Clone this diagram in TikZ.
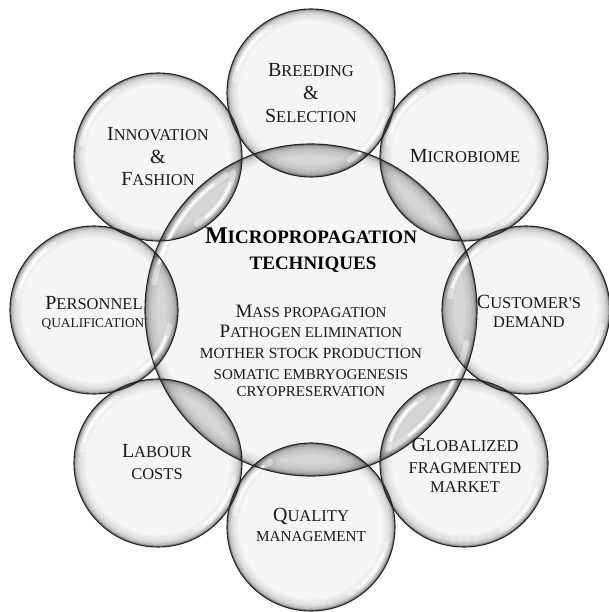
\documentclass[tikz,border=0pt]{standalone}
\usepackage{fontspec}
\setmainfont{Liberation Serif}
\usetikzlibrary{calc}
\newcommand\bigC[1]{{\fontsize{20}{24}\selectfont #1}}
\newcommand\midC[1]{{\fontsize{19}{22}\selectfont #1}}
\tikzset{
  bub/.style={circle, inner sep=0pt, fill=black!4},
  bord/.style={draw=black!85, line width=1.1pt},
  lensfill/.style={fill=black!16},
  rim/.style={draw=black, line width=#1},
  hl/.style={draw=white, line width=2.6pt, line cap=round, opacity=0.85},
  hlsoft/.style={draw=white, line width=6pt, line cap=round, opacity=0.4},
  lbl/.style={anchor=base, inner sep=0pt, text=black!90, font=\fontsize{16.5}{18}\selectfont},
  lst/.style={anchor=base, inner sep=0pt, text=black!90, font=\fontsize{15}{17}\selectfont},
  ttl/.style={anchor=base, inner sep=0pt, text=black, font=\bfseries\fontsize{19}{22}\selectfont}
}
\begin{document}
\begin{tikzpicture}[x=1pt, y=-1pt]
\useasboundingbox (0,0) rectangle (608,612);
% circle fills
\node[bub, minimum size=332pt] (cen) at (311,310) {};
\node[bub, minimum size=168pt] (breed) at (311,93) {};
\node[bub, minimum size=168pt] (micro) at (464,157) {};
\node[bub, minimum size=168pt] (cust) at (526,310) {};
\node[bub, minimum size=168pt] (glob) at (464,463) {};
\node[bub, minimum size=168pt] (qual) at (311,527) {};
\node[bub, minimum size=168pt] (labour) at (158,463) {};
\node[bub, minimum size=168pt] (pers) at (94,310) {};
\node[bub, minimum size=168pt] (innov) at (158,157) {};
% lens overlaps with the central circle
\begin{scope}
  \clip (cen.center) circle[radius=166];
  \foreach \n in {breed,micro,cust,glob,qual,labour,pers,innov}
    \fill[lensfill] (\n.center) circle[radius=84];
\end{scope}
% inner rim shading
\foreach \n/\R in {cen/166,breed/84,micro/84,cust/84,glob/84,qual/84,labour/84,pers/84,innov/84}{
  \draw[rim=1.6pt, opacity=.42] (\n.center) circle[radius=\R-0.8];
  \draw[rim=2pt, opacity=.22] (\n.center) circle[radius=\R-2.5];
  \draw[rim=2pt, opacity=.13] (\n.center) circle[radius=\R-4.5];
  \draw[rim=2pt, opacity=.08] (\n.center) circle[radius=\R-6.5];
  \draw[rim=2pt, opacity=.05] (\n.center) circle[radius=\R-8.5];
  \draw[rim=2pt, opacity=.03] (\n.center) circle[radius=\R-10.5];
}
% highlights
\foreach \n/\r in {breed/77,micro/77,cust/77,glob/77,qual/77,labour/77,pers/77,innov/77,cen/159}{
  \draw[hlsoft] ($(\n.center)+(-122:\r)$) arc[start angle=-122, end angle=-170, radius=\r];
  \draw[hl] ($(\n.center)+(-128:\r)$) arc[start angle=-128, end angle=-163, radius=\r];
  \draw[hlsoft] ($(\n.center)+(12:\r)$) arc[start angle=12, end angle=60, radius=\r];
  \draw[hl] ($(\n.center)+(20:\r)$) arc[start angle=20, end angle=52, radius=\r];
}
% borders
\draw[bord] (cen.center) circle[radius=166];
\foreach \n in {breed,micro,cust,glob,qual,labour,pers,innov}
  \draw[bord] (\n.center) circle[radius=84];
% labels
\node[lbl] (b1) at (311,77) {\bigC{B}REEDING};
\node[lbl] (b2) at (311,100) {\bigC{\&}};
\node[lbl] (b3) at (311,123) {\bigC{S}ELECTION};
\node[lbl] (i1) at (158,141) {\bigC{I}NNOVATION};
\node[lbl] (i2) at (158,164) {\bigC{\&}};
\node[lbl] (i3) at (158,186) {\bigC{F}ASHION};
\node[lbl] (m1) at (465,163) {\bigC{M}ICROBIOME};
\node[lbl] (p1) at (94,309) {\bigC{P}ERSONNEL};
\node[lbl, font=\fontsize{13.4}{15}\selectfont] (p2) at (93,327) {QUALIFICATION};
\node[lbl] (c1) at (529,308) {\bigC{C}USTOMER\textquotesingle S};
\node[lbl, font=\fontsize{16.3}{18}\selectfont] (c2) at (529,327) {DEMAND};
\node[lbl] (g1) at (465,451) {\bigC{G}LOBALIZED};
\node[lbl] (g2) at (465,473) {FRAGMENTED};
\node[lbl] (g3) at (465,492) {MARKET};
\node[lbl] (l1) at (157,457) {\bigC{L}ABOUR};
\node[lbl] (l2) at (157,479) {COSTS};
\node[lbl] (q1) at (311,521) {\bigC{Q}UALITY};
\node[lbl, font=\fontsize{15.2}{17}\selectfont] (q2) at (311,541) {MANAGEMENT};
% central text
\node[ttl] (t1) at (311,243) {{\fontsize{24}{28}\selectfont M}ICROPROPAGATION};
\node[ttl] (t2) at (313,269) {TECHNIQUES};
\node[lst] (s1) at (311,317) {\midC{M}ASS PROPAGATION};
\node[lst] (s2) at (311,337) {\midC{P}ATHOGEN ELIMINATION};
\node[lst, font=\fontsize{15.4}{17}\selectfont] (s3) at (311,358) {MOTHER STOCK PRODUCTION};
\node[lst] (s4) at (311,379) {SOMATIC EMBRYOGENESIS};
\node[lst] (s5) at (311,396) {CRYOPRESERVATION};
\end{tikzpicture}
\end{document}
